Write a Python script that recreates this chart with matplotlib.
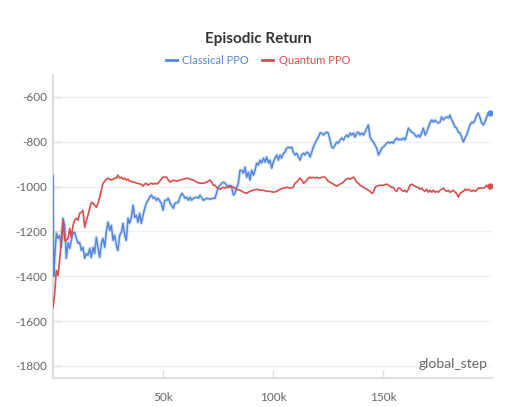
import matplotlib
matplotlib.use("Agg")
import matplotlib.pyplot as plt
import numpy as np

# ---- data (steps in thousands) ----
classical_steps_k = [
    0.0, 0.3, 0.76, 1.52, 2.27, 3.03, 3.79, 4.55, 5.30, 6.06, 6.82, 7.58, 8.33, 9.09, 9.85,
    10.6, 11.4, 12.1, 12.9, 13.6, 14.4, 15.2, 15.9, 16.7, 17.4, 18.2, 18.9, 19.7, 20.5, 21.2,
    22.0, 22.7, 23.5, 24.2, 25.0, 25.8, 26.5, 27.3, 28.0, 28.8, 29.5, 30.3, 31.1, 31.8, 32.6,
    33.3, 34.1, 34.8, 35.6, 36.4, 37.1, 37.9, 38.6, 39.4, 40.1, 40.9, 41.7, 42.4, 43.2, 43.9,
    44.7, 45.5, 46.2, 47.0, 47.7, 49.2, 50.0, 50.8,
    51.7, 52.4, 53.2, 53.9, 54.7, 55.4, 57.0, 57.7, 58.5, 59.2, 60.0, 60.8, 61.5, 62.3, 63.0,
    63.8, 65.3, 66.1, 66.8, 68.3, 69.8, 71.4, 72.9, 73.6, 74.4, 75.1, 75.9, 76.7, 77.4, 78.2,
    78.9, 79.7, 80.4, 81.2, 82.0, 82.7, 83.5, 84.2, 85.0, 85.7, 86.5, 87.3, 88.0, 88.8, 89.5,
    90.3, 91.1, 91.8, 92.6, 93.3, 94.1, 94.8, 95.6, 96.4, 97.1, 97.9, 98.6, 99.4, 100.1, 100.9,
    101.7, 102.4,
    103.2, 103.9, 104.7, 105.4, 106.2, 107.0, 107.7, 108.5, 109.2, 110.0, 110.8, 111.5, 112.3,
    113.0, 113.8, 114.5, 115.3, 116.1, 116.8, 117.6, 118.3, 119.1, 119.8, 120.6, 121.4, 122.1,
    122.9, 123.6, 124.4, 125.1, 125.9, 126.7, 127.4, 128.2, 128.9, 129.7, 130.4, 131.2, 132.0,
    132.7, 133.5, 134.2, 135.0, 135.7, 136.5, 137.3, 138.0, 138.8, 139.5, 140.3, 141.1, 141.8,
    142.6, 143.3, 144.1, 144.8, 145.6, 146.4, 147.1, 147.9, 148.6, 149.4, 150.1, 150.9, 151.7,
    152.4, 153.1, 153.9, 154.7, 155.4, 156.2, 156.9, 157.7, 158.4, 159.2, 160.0, 160.7, 161.5,
    162.2, 163.0, 163.8, 164.5, 165.3, 166.0, 166.8, 167.5, 168.3, 169.1, 169.8, 170.6, 171.3,
    172.1, 172.8, 173.6, 174.4, 175.1, 175.9, 176.6, 177.4, 178.1, 178.9, 179.7, 180.4, 181.2,
    181.9, 182.7, 183.4, 184.2, 185.0, 185.7, 186.5, 187.2, 188.0, 188.7, 189.5, 190.3, 191.0,
    191.8, 192.5, 193.3, 194.1, 194.8, 195.6, 196.3, 197.1, 197.8, 198.6,
]
classical_return = [
    -950, -1400, -1320, -1208, -1231, -1217, -1271, -1141, -1173, -1320, -1249, -1276, -1240, -1208, -1204,
    -1231, -1253, -1249, -1285, -1271, -1320, -1298, -1307, -1276, -1316, -1271, -1298, -1226, -1276, -1316,
    -1253, -1231, -1271, -1204, -1159, -1195, -1173, -1240, -1217, -1262, -1285, -1217, -1204, -1164, -1217,
    -1240, -1141, -1164, -1137, -1083, -1137, -1128, -1159, -1119, -1164, -1128, -1097, -1074, -1061, -1047,
    -1038, -1052, -1047, -1061, -1052, -1074, -1106, -1061,
    -1061, -1052, -1074, -1083, -1097, -1074, -1070, -1047, -1030, -1038, -1052, -1047, -1061, -1047, -1061,
    -1052, -1047, -1052, -1038, -1061, -1052, -1056, -1052, -1052, -1025, -1003, -994, -985, -980, -985,
    -994, -1003, -994, -1003, -1038, -1030, -1003, -985, -927, -927, -940, -913, -958, -936, -971,
    -927, -949, -927, -895, -904, -882, -895, -873, -891, -868, -895, -882, -918, -891, -873,
    -859, -882,
    -859, -873, -851, -846, -828, -824, -828, -824, -846, -859, -851, -868, -882,
    -859, -851, -859, -846, -851, -868, -846, -824, -806, -792, -779, -761, -761,
    -770, -761, -757, -761, -792, -824, -828, -815, -801, -806, -792, -783, -792,
    -779, -770, -779, -761, -770, -761, -779, -761, -757, -770, -761, -770, -757,
    -739, -725, -779, -792, -801, -815, -828, -859, -846, -828, -824, -815, -806,
    -801, -806, -801, -806, -792, -783, -792, -788, -792, -783, -792, -770, -739,
    -748, -757, -761, -770, -779, -770, -779, -761, -739, -770, -757, -734, -716,
    -703, -712, -703, -712, -716, -712, -689, -703, -694, -689, -694, -681, -703,
    -716, -734, -739, -757, -761, -779, -801, -783, -770, -748, -725, -712, -716,
    -703, -681, -672, -694, -716, -725, -712, -689, -672, -672,
]

quantum_steps_k = [
    0.0, 0.76, 1.52, 2.27, 3.03, 3.79, 4.55, 5.30, 6.06, 6.82, 7.58, 8.33, 9.09, 9.85,
    10.6, 11.4, 12.1, 12.9, 13.6, 14.4, 15.2, 15.9, 16.7, 17.4, 18.2, 18.9, 19.7, 20.5, 21.2,
    22.0, 22.7, 23.5, 24.2, 25.0, 25.8, 26.5, 27.3, 28.0, 28.8, 29.5, 30.3, 31.1, 31.8, 32.6,
    33.3, 34.1, 34.8, 35.6, 36.4, 37.1, 37.9, 38.6, 39.4, 40.1, 40.9, 41.7, 42.4, 43.2, 43.9,
    44.7, 45.5, 46.2, 47.0, 47.7, 48.5, 49.2, 50.0, 50.8,
    51.7, 52.4, 53.2, 53.9, 54.7, 56.2, 57.7, 59.2, 60.8, 62.3, 63.8, 65.3, 66.8, 68.3, 69.8,
    71.4, 72.1, 72.9, 73.6, 74.4, 75.1, 75.9, 76.7, 77.4, 78.2, 78.9, 79.7, 80.4, 81.2, 82.0,
    82.7, 83.5, 85.0, 86.5, 88.0, 88.8, 89.5, 91.1, 92.6, 94.1, 95.6, 97.1, 98.6, 100.1, 101.7,
    103.2, 104.7, 106.2, 107.7, 109.2, 110.0, 110.8, 111.5, 112.3, 113.0, 113.8, 114.5, 115.3,
    116.1, 116.8, 117.6, 118.3, 119.1, 119.8, 120.6, 121.4, 122.1, 122.9, 123.6, 124.4, 125.1,
    125.9, 126.7, 127.4, 128.2, 128.9, 129.7, 130.4, 131.2, 132.0, 132.7, 133.5, 134.2, 135.0,
    135.7, 136.5, 137.3, 138.0, 138.8, 139.5, 140.3, 141.1, 141.8, 142.6, 143.3, 144.1, 144.8,
    145.6, 146.4, 147.1, 148.6, 150.1, 151.7,
    152.4, 153.1, 153.9, 154.7, 155.4, 156.2, 156.9, 157.7, 158.4, 159.2, 160.0, 160.7, 161.5,
    162.2, 163.0, 163.8, 164.5, 165.3, 166.0, 166.8, 167.5, 168.3, 169.1, 169.8, 170.6, 171.3,
    172.1, 172.8, 173.6, 174.4, 175.1, 175.9, 176.6, 177.4, 178.1, 178.9, 179.7, 180.4, 181.2,
    181.9, 182.7, 183.4, 184.2, 185.0, 185.7, 186.5, 187.2, 188.0, 188.7, 189.5, 190.3, 191.0,
    191.8, 192.5, 193.3, 194.1, 194.8, 195.6, 196.3, 197.1, 197.8, 198.6,
]
quantum_return = [
    -1540, -1477, -1374, -1396, -1329, -1240, -1150, -1240, -1240, -1231, -1186, -1226, -1173, -1150,
    -1141, -1150, -1119, -1115, -1106, -1182, -1150, -1128, -1097, -1070, -1074, -1083, -1092, -1074, -1047,
    -1016, -985, -976, -967, -962, -967, -971, -967, -962, -962, -949, -962, -958, -967, -962,
    -971, -967, -976, -976, -980, -980, -985, -985, -989, -989, -998, -989, -985, -994, -989,
    -985, -989, -985, -989, -985, -976, -967, -958, -958,
    -958, -971, -980, -976, -971, -976, -971, -967, -962, -967, -971, -980, -985, -985, -980,
    -971, -980, -994, -994, -1003, -1007, -1012, -1007, -1003, -1007, -1003, -998, -1003, -998, -1003,
    -1007, -1012, -1016, -1025, -1030, -1025, -1021, -1016, -1012, -1016, -1016, -1021, -1021, -1025, -1021,
    -1012, -1007, -1003, -1007, -1003, -985, -980, -971, -962, -971, -985, -980, -971,
    -962, -958, -962, -958, -962, -958, -962, -962, -958, -958, -958, -967, -976,
    -980, -985, -989, -994, -998, -994, -989, -985, -980, -971, -967, -962, -967,
    -962, -958, -967, -980, -985, -994, -998, -1003, -1007, -1012, -1016, -1021, -1030,
    -1025, -1003, -998, -994, -994, -989,
    -994, -998, -1003, -1003, -1016, -1021, -1007, -1007, -1016, -1021, -1016, -1025, -1012,
    -994, -989, -994, -998, -1003, -1003, -1012, -1007, -1016, -1021, -1012, -1025, -1016,
    -1025, -1016, -1025, -1021, -1025, -1016, -1012, -1007, -1016, -1021, -1016, -1025, -1021,
    -1016, -1025, -1030, -1047, -1030, -1025, -1021, -1012, -1016, -1012, -1016, -1021, -1016,
    -1021, -1016, -1007, -1007, -1007, -1007, -1003, -994, -1003, -998,
]

series_names = ["Classical PPO", "Quantum PPO"]
series_colors = ["#5387DD", "#DA4C4C"]
y_ticks = [-1800, -1600, -1400, -1200, -1000, -800, -600]
x_ticks = [50000, 100000, 150000]
x_tick_labels = ["50k", "100k", "150k"]

plt.rcParams["font.family"] = ["Lato", "DejaVu Sans"]

fig = plt.figure(figsize=(5.18, 4.07), dpi=100)
ax = fig.add_axes([53 / 518, 29 / 407, 439 / 518, 303 / 407])

cs = np.array(classical_steps_k) * 1000
qs = np.array(quantum_steps_k) * 1000

ax.plot(cs, classical_return, color=series_colors[0], lw=2.6, alpha=0.22, zorder=2)
ax.plot(cs, classical_return, color=series_colors[0], lw=1.1, zorder=3, label=series_names[0])
ax.plot(qs, quantum_return, color=series_colors[1], lw=1.2, zorder=4, label=series_names[1])
ax.plot(cs[-1], classical_return[-1], "o", color=series_colors[0], ms=3.5, zorder=5)
ax.plot(qs[-1], quantum_return[-1], "o", color=series_colors[1], ms=3.5, zorder=5)

ax.set_xlim(0, 199500)
ax.set_ylim(-1854, -502)

ax.set_yticks(y_ticks)
ax.set_yticklabels([str(v) for v in y_ticks])
ax.set_xticks(x_ticks)
ax.set_xticklabels(x_tick_labels)

ax.grid(axis="y", color="#f0f0f0", lw=1.0)
ax.set_axisbelow(True)
for s in ["top", "right"]:
    ax.spines[s].set_visible(False)
for s in ["left", "bottom"]:
    ax.spines[s].set_color("#dddddd")
    ax.spines[s].set_linewidth(1.5)

ax.tick_params(axis="both", direction="in", length=6, width=1, color="#dddddd",
               labelcolor="#666666", labelsize=8.5)
ax.tick_params(axis="y", pad=4)
ax.tick_params(axis="x", pad=10)

ax.text(0.99, 0.028, "global_step", transform=ax.transAxes, ha="right", va="bottom",
        fontsize=10, color="#666666")

fig.text(258 / 518, 1 - 39 / 407, "Episodic Return", ha="center", va="center",
         fontsize=11, fontweight="bold", color="#333333")

leg = fig.legend(loc="center", bbox_to_anchor=(258 / 518, 1 - 60 / 407), ncol=2, frameon=False,
                 fontsize=8, handlelength=1.0, handletextpad=0.5, columnspacing=1.2)
for line, text, c in zip(leg.get_lines(), leg.get_texts(), series_colors):
    text.set_color(c)
    line.set_linewidth(2)
    line.set_alpha(1)

fig.savefig("out.png", dpi=100)
